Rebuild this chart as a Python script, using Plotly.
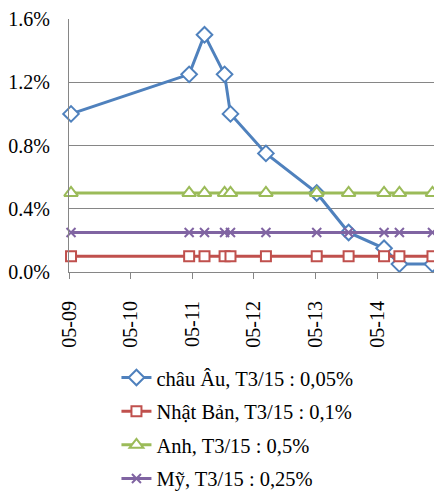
import plotly.graph_objects as go

# dates of each rate change (same points for all four series)
dates = ["2009-05-13", "2011-04-13", "2011-07-13", "2011-11-09", "2011-12-14",
         "2012-07-11", "2013-05-08", "2013-11-13", "2014-06-11", "2014-09-10",
         "2015-03-25"]

euro = [1.0, 1.25, 1.5, 1.25, 1.0, 0.75, 0.5, 0.25, 0.15, 0.05, 0.05]
japan = [0.1, 0.1, 0.1, 0.1, 0.1, 0.1, 0.1, 0.1, 0.1, 0.1, 0.1]
uk = [0.5, 0.5, 0.5, 0.5, 0.5, 0.5, 0.5, 0.5, 0.5, 0.5, 0.5]
us = [0.25, 0.25, 0.25, 0.25, 0.25, 0.25, 0.25, 0.25, 0.25, 0.25, 0.25]

names = ["châu Âu, T3/15 : 0,05%", "Nhật Bản, T3/15 : 0,1%",
         "Anh, T3/15 : 0,5%", "Mỹ, T3/15 : 0,25%"]

font = "Liberation Serif"

series = [
    (euro, "#4F81BD", "diamond", 12, "white"),
    (japan, "#C0504D", "square", 10, "white"),
    (uk, "#9BBB59", "triangle-up", 12, "white"),
    (us, "#8064A2", "x-thin", 9, "#8064A2"),
]

fig = go.Figure()
for i, (vals, col, sym, sz, fill) in enumerate(series):
    fig.add_trace(go.Scatter(
        x=dates, y=vals, name=names[i], mode="lines+markers",
        legendgroup=str(i),
        line=dict(color=col, width=3),
        marker=dict(symbol=sym, size=sz, color=fill, line=dict(color=col, width=2)),
        cliponaxis=False,
    ))

fig.update_layout(
    width=434, height=492,
    margin=dict(l=69, r=0, t=19, b=220),
    paper_bgcolor="white", plot_bgcolor="white",
    font=dict(family=font, size=20, color="black"),
    showlegend=True,
    legend=dict(x=0.13, xanchor="left", y=0.273, yanchor="top", yref="container",
                tracegroupgap=4, font=dict(size=20.5), bgcolor="rgba(0,0,0,0)"),
)
fig.update_xaxes(
    type="date", range=["2009-05-01", "2015-04-03"],
    tick0="2009-05-01", dtick="M12", tickformat="%m-%y", tickangle=-90,
    ticks="outside", ticklen=6, tickcolor="#868686",
    showline=True, linecolor="#868686", linewidth=1,
    showgrid=False, zeroline=False, ticklabelstandoff=14, automargin=False,
)
fig.update_yaxes(
    range=[0, 1.6], dtick=0.4, tickformat=".1f", ticksuffix="%",
    showgrid=True, gridcolor="#868686", gridwidth=1,
    showline=True, linecolor="#868686", linewidth=1,
    zeroline=False, ticks="", ticklabelstandoff=14, automargin=False,
)
# page body has a default 8px margin; drop it so the figure sits at 0,0
fig.write_html("out.html", config={"displayModeBar": False},
               post_script="document.body.style.margin='0';")
